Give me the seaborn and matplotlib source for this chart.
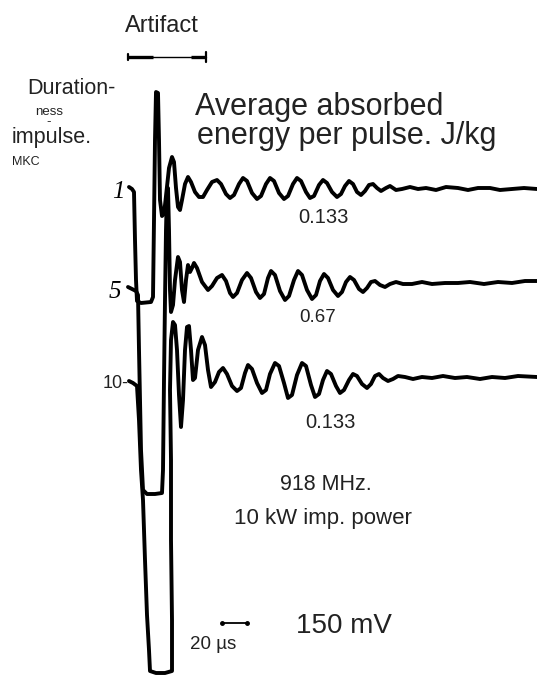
import numpy as np
import pandas as pd
import matplotlib
matplotlib.use("Agg")
import matplotlib.pyplot as plt
import seaborn as sns

# ---- data: oscillogram traces (time axis -> x, deflection -> y, screen units)
trace_names = ["1", "5", "10"]

t1_x = [129, 132, 134, 135, 136, 137, 141, 151, 153, 154, 155, 156, 158, 159, 160, 162, 164, 166, 169, 172,
        174, 176, 178, 180, 182, 185, 188, 191, 195, 199, 203, 207, 212, 217, 221, 226, 230, 234, 239, 243,
        247, 252, 257, 261, 266, 270, 274, 279, 284, 288, 293, 297, 301, 306, 310, 314, 319, 323, 327, 332,
        337, 341, 345, 349, 353, 357, 361, 365, 369, 373, 377, 381, 386, 390, 396, 402, 410, 418, 426, 436,
        446, 458, 468, 478, 490, 500, 512, 524, 537]
t1_y = [187, 189, 192, 240, 280, 301, 303, 302, 297, 220, 140, 92, 93, 140, 200, 216, 214, 196, 168, 157,
        162, 188, 207, 210, 200, 184, 177, 182, 192, 197, 197, 190, 182, 180, 184, 194, 198, 195, 184, 178,
        181, 193, 199, 196, 184, 178, 181, 193, 199, 196, 184, 178, 181, 192, 198, 196, 185, 180, 183, 192,
        197, 194, 186, 181, 184, 192, 195, 191, 185, 184, 188, 191, 188, 186, 190, 189, 187, 189, 188, 190,
        187, 188, 190, 188, 188, 190, 189, 188, 189]

t5_x = [128, 132, 136, 138, 139, 140, 141, 143, 147, 155, 162, 163, 164, 165, 166, 167, 168, 169, 170, 171,
        173, 175, 178, 180, 182, 184, 186, 188, 190, 192, 194, 197, 202, 208, 212, 217, 222, 226, 230, 233,
        237, 242, 247, 251, 256, 260, 264, 268, 271, 275, 280, 285, 289, 294, 298, 302, 307, 312, 316, 320,
        324, 328, 333, 338, 342, 346, 350, 354, 359, 363, 367, 371, 375, 380, 385, 390, 396, 403, 412, 422,
        432, 445, 458, 470, 484, 498, 512, 525, 537]
t5_y = [287, 289, 291, 295, 350, 400, 450, 490, 494, 494, 493, 470, 380, 300, 230, 190, 188, 230, 290, 312,
        305, 280, 257, 262, 290, 302, 280, 265, 272, 268, 263, 268, 282, 290, 286, 278, 275, 281, 293, 297,
        293, 280, 273, 278, 292, 298, 294, 278, 271, 275, 291, 300, 296, 280, 271, 275, 290, 299, 295, 281,
        274, 278, 290, 296, 292, 282, 277, 280, 289, 292, 288, 282, 281, 285, 287, 284, 282, 284, 284, 282,
        284, 283, 283, 282, 284, 282, 283, 281, 281]

t10_x = [129, 133, 137, 139, 141, 143, 145, 147, 149, 150, 156, 165, 172, 172, 171, 171, 170, 171, 173, 175,
         177, 179, 181, 183, 185, 187, 189, 191, 193, 195, 198, 202, 205, 208, 211, 215, 219, 223, 227, 232,
         237, 241, 245, 248, 252, 257, 262, 266, 270, 275, 279, 284, 288, 292, 297, 302, 306, 311, 315, 319,
         323, 327, 331, 336, 340, 344, 349, 353, 357, 362, 367, 371, 375, 379, 383, 388, 393, 398, 405, 413,
         422, 432, 443, 455, 467, 480, 492, 505, 518, 537]
t10_y = [381, 383, 386, 420, 470, 500, 560, 615, 650, 671, 673, 673, 671, 620, 540, 460, 390, 340, 322, 325,
         350, 395, 427, 400, 350, 327, 326, 350, 380, 378, 350, 337, 345, 370, 387, 382, 372, 368, 374, 386,
         391, 388, 373, 365, 369, 383, 393, 390, 374, 363, 366, 383, 398, 395, 375, 363, 366, 385, 397, 394,
         380, 371, 374, 386, 393, 390, 380, 374, 376, 384, 388, 384, 376, 374, 378, 381, 379, 376, 377, 379,
         377, 378, 376, 378, 377, 379, 377, 378, 376, 377]

energy_labels = ["0.133", "0.67", "0.133"]
duration_labels = ["1", "5", "10-"]

# scale bars (screen units)
artifact_bar = [128, 206]
time_bar = [222, 247]

frames = []
for name, xs, ys in zip(trace_names, [t1_x, t5_x, t10_x], [t1_y, t5_y, t10_y]):
    frames.append(pd.DataFrame({"t": xs, "v": ys, "trace": name}))
df = pd.concat(frames, ignore_index=True)

sns.set_theme(style="white")
plt.rcParams["font.family"] = ["Liberation Sans", "DejaVu Sans"]

fig = plt.figure(figsize=(5.37, 6.77), dpi=100)
ax = fig.add_axes([0, 0, 1, 1])
sns.lineplot(data=df, x="t", y="v", units="trace", estimator=None, sort=False,
             color="black", linewidth=2.8, legend=False, ax=ax,
             solid_joinstyle="round", solid_capstyle="round")
ax.set_xlim(0, 537)
ax.set_ylim(677, 0)
ax.axis("off")

tc = "#222222"
# artifact bar
ya = 57
ax.plot(artifact_bar, [ya, ya], color="black", lw=1.0)
ax.plot([artifact_bar[0], 153], [ya, ya], color="black", lw=2.4, solid_capstyle="butt")
ax.plot([191, artifact_bar[1]], [ya, ya], color="black", lw=2.4, solid_capstyle="butt")
ax.plot([artifact_bar[0], artifact_bar[0]], [54, 60], color="black", lw=1.6)
ax.plot([artifact_bar[1], artifact_bar[1]], [52, 62], color="black", lw=1.6)
ax.text(162, 32, "Artifact", fontsize=17, color=tc, ha="center", va="baseline")

# left caption
ax.text(27, 94, "Duration-", fontsize=15.5, color=tc, ha="left", va="baseline")
ax.text(49, 125, "ness\n-", fontsize=9.5, color=tc, ha="center", va="baseline",
        multialignment="center", linespacing=0.75)
ax.text(12, 143, "impulse.", fontsize=15.5, color=tc, ha="left", va="baseline")
ax.text(12, 165, "MKC", fontsize=9, color=tc, ha="left", va="baseline")

# title
ax.text(195, 115, "Average absorbed", fontsize=22, color=tc, ha="left", va="baseline")
ax.text(197, 144, "energy per pulse. J/kg", fontsize=22, color=tc, ha="left", va="baseline")

# duration labels on traces
ax.text(118, 198, duration_labels[0], fontsize=18, color="black", ha="center", va="baseline",
        family=["Liberation Serif", "DejaVu Serif"], style="italic")
ax.text(115, 298, duration_labels[1], fontsize=18, color="black", ha="center", va="baseline",
        family=["Liberation Serif", "DejaVu Serif"], style="italic")
ax.text(103, 388, duration_labels[2], fontsize=13, color=tc, ha="left", va="baseline")

# energy labels
ax.text(323, 223, energy_labels[0], fontsize=14.5, color=tc, ha="center", va="baseline")
ax.text(318, 322, energy_labels[1], fontsize=13.5, color=tc, ha="center", va="baseline")
ax.text(330, 428, energy_labels[2], fontsize=14.5, color=tc, ha="center", va="baseline")

# conditions
ax.text(326, 490, "918 MHz.", fontsize=15.5, color=tc, ha="center", va="baseline")
ax.text(323, 524, "10 kW imp. power", fontsize=16, color=tc, ha="center", va="baseline")
ax.text(344, 633, "150 mV", fontsize=20, color=tc, ha="center", va="baseline")

# time scale bar
yt = 623
ax.plot(time_bar, [yt, yt], color="black", lw=1.3)
ax.plot(time_bar, [yt, yt], color="black", lw=0, marker="o", markersize=2.5)
ax.text(213, 649, "20 µs", fontsize=13.5, color=tc, ha="center", va="baseline")

fig.savefig("out.png", dpi=100)
